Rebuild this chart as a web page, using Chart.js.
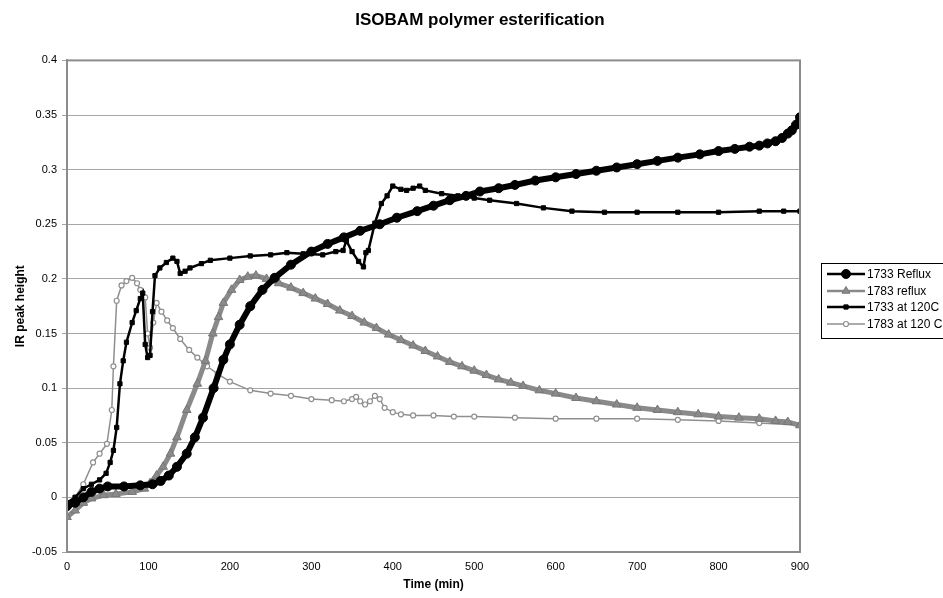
<!DOCTYPE html>
<html>
<head>
<meta charset="utf-8">
<script src="https://cdn.jsdelivr.net/npm/chart.js@4.4.1/dist/chart.umd.min.js"></script>
<style>
  html, body { margin: 0; padding: 0; background: #fff; }
</style>
</head>
<body>
<canvas id="c" width="943" height="598"></canvas>
<script>
// values (time in min, IR peak height)
const seriesNames = ['1733 Reflux', '1783 reflux', '1733 at 120C', '1783 at 120 C'];

const reflux1733T = [0, 10, 20, 30, 40, 50, 70, 90, 105, 115, 125, 135, 147, 157, 167, 180, 192, 200, 212, 225, 240, 255, 275, 300, 320, 340, 360, 384, 405, 430, 450, 470, 490, 507, 530, 550, 575, 600, 625, 650, 675, 700, 725, 750, 777, 800, 820, 838, 850, 860, 870, 878, 885, 890, 895, 900];
const reflux1733V = [-0.008, -0.005, 0.0, 0.005, 0.008, 0.01, 0.01, 0.011, 0.012, 0.015, 0.02, 0.028, 0.04, 0.055, 0.073, 0.1, 0.126, 0.14, 0.158, 0.175, 0.19, 0.201, 0.213, 0.225, 0.232, 0.238, 0.244, 0.25, 0.256, 0.262, 0.267, 0.272, 0.276, 0.28, 0.283, 0.286, 0.29, 0.293, 0.296, 0.299, 0.302, 0.305, 0.308, 0.311, 0.314, 0.317, 0.319, 0.321, 0.322, 0.324, 0.326, 0.329, 0.333, 0.336, 0.341, 0.348];

const reflux1783T = [0, 10, 20, 30, 45, 60, 80, 95, 102, 110, 118, 127, 135, 147, 160, 170, 179, 186, 192, 202, 212, 222, 232, 245, 260, 275, 290, 305, 320, 335, 350, 365, 380, 395, 410, 425, 440, 455, 470, 485, 500, 515, 530, 545, 560, 580, 600, 625, 650, 675, 700, 725, 750, 775, 800, 825, 850, 870, 885, 900];
const reflux1783V = [-0.018, -0.012, -0.005, -0.001, 0.002, 0.003, 0.005, 0.008, 0.013, 0.02, 0.028, 0.04, 0.055, 0.08, 0.104, 0.125, 0.15, 0.165, 0.178, 0.19, 0.199, 0.202, 0.203, 0.2, 0.196, 0.192, 0.187, 0.182, 0.177, 0.171, 0.166, 0.16, 0.155, 0.149, 0.144, 0.139, 0.134, 0.129, 0.124, 0.12, 0.116, 0.112, 0.108, 0.105, 0.102, 0.098, 0.095, 0.091, 0.088, 0.085, 0.082, 0.08, 0.078, 0.076, 0.074, 0.073, 0.072, 0.07, 0.069, 0.066];

const at120_1733T = [0, 10, 20, 30, 40, 48, 53, 57, 61, 65, 69, 73, 80, 85, 90, 93, 96, 99, 102, 105, 108, 114, 122, 130, 135, 139, 145, 151, 165, 176, 200, 225, 250, 270, 290, 314, 330, 339, 343, 350, 358, 364, 367, 370, 378, 386, 393, 400, 410, 417, 425, 433, 440, 460, 480, 500, 519, 552, 585, 620, 660, 700, 750, 800, 850, 880, 900];
const at120_1733V = [-0.005, 0.0, 0.008, 0.012, 0.016, 0.022, 0.032, 0.043, 0.064, 0.104, 0.125, 0.142, 0.16, 0.171, 0.182, 0.187, 0.14, 0.128, 0.13, 0.17, 0.203, 0.21, 0.215, 0.219, 0.216, 0.205, 0.207, 0.21, 0.214, 0.217, 0.219, 0.221, 0.222, 0.224, 0.223, 0.222, 0.225, 0.226, 0.235, 0.225, 0.216, 0.211, 0.224, 0.226, 0.251, 0.269, 0.276, 0.285, 0.282, 0.281, 0.283, 0.285, 0.281, 0.278, 0.276, 0.274, 0.272, 0.269, 0.265, 0.262, 0.261, 0.261, 0.261, 0.261, 0.262, 0.262, 0.262];

const at120_1783T = [0, 10, 20, 32, 40, 49, 55, 57, 61, 67, 73, 80, 86, 90, 96, 99, 102, 106, 110, 116, 123, 130, 139, 150, 160, 172, 185, 200, 225, 250, 275, 300, 325, 340, 350, 355, 360, 366, 372, 378, 384, 390, 400, 410, 425, 450, 475, 500, 550, 600, 650, 700, 750, 800, 850, 900];
const at120_1783V = [-0.01, 0.0, 0.012, 0.032, 0.04, 0.049, 0.08, 0.12, 0.18, 0.194, 0.198, 0.201, 0.196, 0.19, 0.183, 0.15, 0.137, 0.16, 0.178, 0.17, 0.162, 0.155, 0.145, 0.135, 0.128, 0.12, 0.113, 0.106, 0.098, 0.095, 0.093, 0.09, 0.089, 0.088, 0.09, 0.092, 0.088, 0.085, 0.088, 0.093, 0.09, 0.082, 0.078, 0.076, 0.075, 0.075, 0.074, 0.074, 0.073, 0.072, 0.072, 0.072, 0.071, 0.07, 0.068, 0.066];

const xTicks = [0, 100, 200, 300, 400, 500, 600, 700, 800, 900];
const yTicks = [-0.05, 0, 0.05, 0.1, 0.15, 0.2, 0.25, 0.3, 0.35, 0.4];

const pts = (xs, ys) => xs.map((x, i) => ({ x, y: ys[i] }));

Chart.defaults.font.family = '"Liberation Sans", Arial, sans-serif';
Chart.defaults.color = '#000';

// boxed legend on the right, line + marker like the original
const boxLegend = {
  id: 'boxLegend',
  afterDraw(chart) {
    const ctx = chart.ctx;
    const left = 821, top = 263, bottom = 338;
    ctx.save();
    ctx.strokeStyle = '#000';
    ctx.lineWidth = 1;
    ctx.strokeRect(left + 0.5, top + 0.5, 943 - left + 5, bottom - top);
    const rows = [274, 291, 307, 324];
    chart.data.datasets.forEach((ds, i) => {
      const y = rows[i];
      ctx.strokeStyle = ds.borderColor;
      ctx.lineWidth = Math.min(ds.borderWidth, 2.5);
      ctx.beginPath();
      ctx.moveTo(827, y);
      ctx.lineTo(865, y);
      ctx.stroke();
      ctx.fillStyle = ds.pointBackgroundColor;
      ctx.strokeStyle = ds.pointBorderColor;
      ctx.lineWidth = ds.pointBorderWidth;
      Chart.helpers.drawPoint(ctx, {
        pointStyle: ds.pointStyle,
        radius: Math.min(ds.pointRadius, 4.5),
        rotation: 0,
        borderWidth: ds.pointBorderWidth
      }, 846, y);
      ctx.fillStyle = '#000';
      ctx.font = '12px "Liberation Sans", Arial, sans-serif';
      ctx.textBaseline = 'middle';
      ctx.textAlign = 'left';
      ctx.fillText(ds.label, 867, y + 1);
    });
    ctx.restore();
  }
};

// grey frame round the plot area
const plotFrame = {
  id: 'plotFrame',
  afterDraw(chart) {
    const { left, top, right, bottom } = chart.chartArea;
    const ctx = chart.ctx;
    ctx.save();
    ctx.strokeStyle = '#8c8c8c';
    ctx.lineWidth = 2;
    ctx.strokeRect(left, top, right - left, bottom - top);
    ctx.restore();
  }
};

new Chart(document.getElementById('c'), {
  type: 'scatter',
  data: {
    datasets: [
      {
        label: seriesNames[0],
        data: pts(reflux1733T, reflux1733V),
        showLine: true,
        borderColor: '#000',
        borderWidth: 6,
        pointStyle: 'circle',
        pointRadius: 4.5,
        pointBackgroundColor: '#000',
        pointBorderColor: '#000',
        pointBorderWidth: 1
      },
      {
        label: seriesNames[1],
        data: pts(reflux1783T, reflux1783V),
        showLine: true,
        borderColor: '#8a8a8a',
        borderWidth: 5,
        pointStyle: 'triangle',
        pointRadius: 5,
        pointBackgroundColor: '#8a8a8a',
        pointBorderColor: '#777',
        pointBorderWidth: 1
      },
      {
        label: seriesNames[2],
        data: pts(at120_1733T, at120_1733V),
        showLine: true,
        borderColor: '#000',
        borderWidth: 2.5,
        pointStyle: 'rect',
        pointRadius: 3,
        pointBackgroundColor: '#000',
        pointBorderColor: '#000',
        pointBorderWidth: 1
      },
      {
        label: seriesNames[3],
        data: pts(at120_1783T, at120_1783V),
        showLine: true,
        borderColor: '#8f8f8f',
        borderWidth: 1.5,
        pointStyle: 'circle',
        pointRadius: 2.5,
        pointBackgroundColor: '#fff',
        pointBorderColor: '#8f8f8f',
        pointBorderWidth: 1.2
      }
    ]
  },
  options: {
    responsive: false,
    animation: false,
    layout: { padding: { left: 17, right: 0, top: 0, bottom: 0 } },
    plugins: {
      legend: { display: false },
      tooltip: { enabled: false },
      title: {
        display: true,
        text: 'ISOBAM polymer esterification',
        font: { size: 17, weight: 'bold' },
        color: '#000',
        padding: { top: 10, bottom: 30 }
      }
    },
    scales: {
      x: {
        type: 'linear',
        min: 0,
        max: 900,
        afterBuildTicks: (scale) => { scale.ticks = xTicks.map(v => ({ value: v })); },
        afterFit: (scale) => { scale.height = 46; },
        grid: { display: false, tickLength: 5 },
        border: { display: true, color: '#8c8c8c', width: 2 },
        ticks: { font: { size: 11 }, padding: 3, maxRotation: 0 },
        title: {
          display: true,
          text: 'Time (min)',
          font: { size: 12, weight: 'bold' },
          padding: { top: 0, bottom: 6 }
        }
      },
      y: {
        min: -0.05,
        max: 0.4,
        afterBuildTicks: (scale) => { scale.ticks = yTicks.map(v => ({ value: v })); },
        afterFit: (scale) => { scale.width = 50; },
        grid: { color: '#a6a6a6', lineWidth: 1, tickLength: 5, drawTicks: true },
        border: { display: true, color: '#8c8c8c', width: 2 },
        ticks: {
          font: { size: 11 },
          padding: 5,
          callback: (v) => String(Math.round(v * 100) / 100)
        },
        title: {
          display: true,
          text: 'IR peak height',
          font: { size: 12, weight: 'bold' },
          padding: { top: -4, bottom: 0 }
        }
      },
      // empty scale that only reserves the room for the legend box
      side: {
        position: 'right',
        min: 0,
        max: 1,
        afterFit: (scale) => { scale.width = 143; },
        grid: { display: false },
        border: { display: false },
        ticks: { display: false }
      }
    }
  },
  plugins: [plotFrame, boxLegend]
});
</script>
</body>
</html>
